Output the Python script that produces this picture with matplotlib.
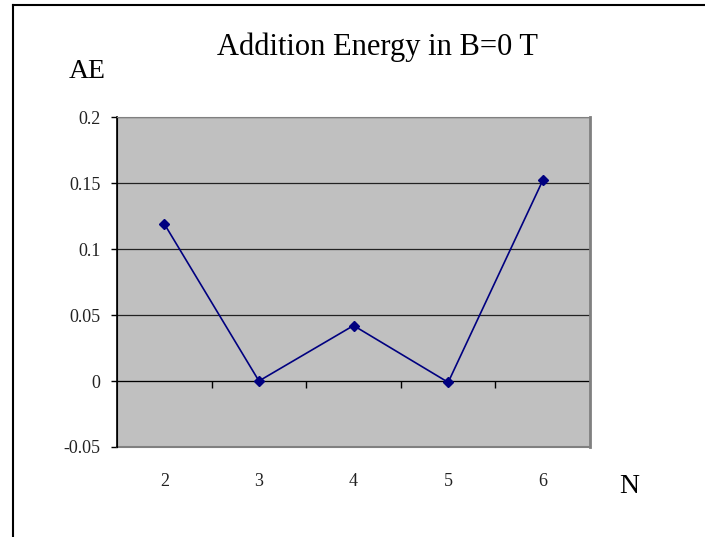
import matplotlib.pyplot as plt
from matplotlib.lines import Line2D
import matplotlib.transforms as mtransforms

# Addition energy vs electron number N (B = 0 T)
n_values = [2, 3, 4, 5, 6]
addition_energy = [0.119, 0.0, 0.042, -0.001, 0.152]
y_ticks = [-0.05, 0, 0.05, 0.1, 0.15, 0.2]
y_labels = ["-0.05", "0", "0.05", "0.1", "0.15", "0.2"]

plt.rcParams["font.family"] = ["Liberation Serif", "DejaVu Serif"]

fig = plt.figure(figsize=(7.05, 5.37), dpi=100)
ax = fig.add_axes([0.166, 0.1676, 0.671, 0.6145])
ax.set_facecolor("#c0c0c0")

ax.plot(n_values, addition_energy, color="#000080", lw=1.2,
        marker="D", markersize=5.5, zorder=3)

ax.set_xlim(n_values[0] - 0.5, n_values[-1] + 0.5)
ax.set_ylim(y_ticks[0], y_ticks[-1])
ax.set_yticks(y_ticks)
ax.set_yticklabels(y_labels, fontsize=13, color="#222222")
ax.tick_params(axis="y", direction="out", length=4, width=1, pad=8)
ax.yaxis.grid(True, color="#222222", lw=0.9)
ax.set_axisbelow(True)

# category axis crosses at zero, tick marks between categories
ax.spines["bottom"].set_position(("data", 0))
ax.spines["bottom"].set_color("black")
ax.spines["bottom"].set_zorder(2)
ax.set_xticks([n + 0.5 for n in n_values[:-1]], minor=True)
ax.set_xticks([])
ax.tick_params(axis="x", which="minor", direction="out", length=5, width=1)
ax.spines["left"].set_color("black")
ax.spines["top"].set_color("#808080")
ax.spines["right"].set_color("#808080")
ax.spines["right"].set_linewidth(2)

# category labels sit below the plot area
trans = mtransforms.blended_transform_factory(ax.transData, ax.transAxes)
for n in n_values:
    ax.text(n, -0.105, str(n), transform=trans, ha="center", va="center",
            fontsize=13, color="#222222")

# bottom frame of plot area in grey
ax.add_line(Line2D([0, 1], [0, 0], transform=ax.transAxes, color="#808080",
                   lw=1.5, clip_on=False))
ax.add_line(Line2D([0, 0], [0, 1], transform=ax.transAxes, color="black",
                   lw=1.2, clip_on=False))

fig.text(0.535, 0.912, "Addition Energy in B=0 T", ha="center", va="center",
         fontsize=22)
fig.text(0.124, 0.866, "AE", ha="center", va="center", fontsize=20)
fig.text(0.893, 0.094, "N", ha="center", va="center", fontsize=20)

# chart frame (cropped on the right and bottom)
fig.add_artist(Line2D([13 / 705, 13 / 705], [0, 1 - 5 / 537], color="black", lw=1.5))
fig.add_artist(Line2D([13 / 705, 1], [1 - 5 / 537, 1 - 5 / 537], color="black", lw=1.5))

fig.savefig("out.png", dpi=100)
